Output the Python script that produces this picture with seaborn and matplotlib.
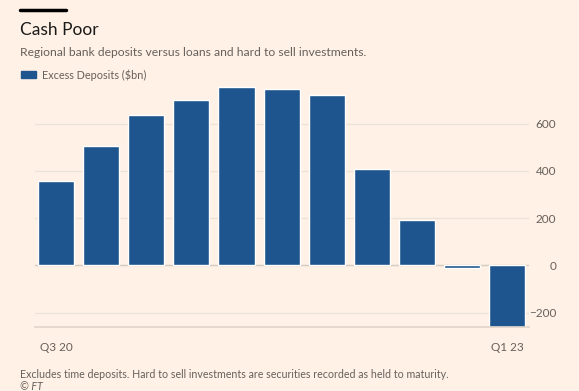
import matplotlib
matplotlib.use("Agg")
import matplotlib.pyplot as plt
from matplotlib.patches import Patch
from matplotlib.lines import Line2D
import seaborn as sns
import pandas as pd

# ================= DATA =================
quarters = ["Q3 20", "Q4 20", "Q1 21", "Q2 21", "Q3 21", "Q4 21",
            "Q1 22", "Q2 22", "Q3 22", "Q4 22", "Q1 23"]
excess_deposits = [356, 504, 636, 699, 755, 747, 720, 407, 192, -10, -260]
shown_ticks = ["Q3 20", "Q1 23"]
y_ticks = [-200, 0, 200, 400, 600]

BG = "#fff1e5"
BAR = "#1f558f"
GREY = "#66605c"
GRID = "#ece2d9"

df = pd.DataFrame({"quarter": quarters, "deposits": excess_deposits})

sns.set_style("white")
plt.rcParams["font.family"] = ["Lato", "DejaVu Sans"]

fig = plt.figure(figsize=(5.79, 3.91), dpi=100, facecolor=BG)
ax = fig.add_axes([35 / 579, 1 - 327 / 391, 494 / 579, 242 / 391])
ax.set_facecolor(BG)

sns.barplot(data=df, x="quarter", y="deposits", color=BAR, width=0.8,
            saturation=1, ax=ax, zorder=3)

ax.set_xlim(-0.47, 10.49)
ax.set_ylim(-261, 764)
ax.set_yticks(y_ticks)
ax.yaxis.tick_right()
ax.tick_params(axis="y", length=0, pad=19.5, labelsize=8.5, labelcolor=GREY)
for lab in ax.get_yticklabels():
    lab.set_horizontalalignment("right")
ax.grid(axis="y", color=GRID, linewidth=1, zorder=0)
ax.axhline(0, color="#d8ccc2", linewidth=1, zorder=2)

ax.set_xticks(range(len(quarters)))
ax.set_xticklabels([q if q in shown_ticks else "" for q in quarters])
ax.tick_params(axis="x", length=5, color="#d8ccc2", width=1, pad=6,
               labelsize=8.5, labelcolor=GREY)
ax.set_xlabel("")
ax.set_ylabel("")
for side in ["top", "left", "right"]:
    ax.spines[side].set_visible(False)
ax.spines["bottom"].set_color("#e0d5cb")
ax.spines["bottom"].set_linewidth(1.2)
ax.spines["bottom"].set_zorder(4)

# ================= HEADER / FOOTER =================
fig.add_artist(Line2D([20 / 579, 66 / 579], [1 - 10 / 391] * 2, color="black",
                      linewidth=2.5))
fig.text(20 / 579, 1 - 30 / 391, "Cash Poor", fontsize=12.5, color="#1a1a1a",
         va="center")
fig.text(20 / 579, 1 - 52 / 391,
         "Regional bank deposits versus loans and hard to sell investments.",
         fontsize=8.7, color=GREY, va="center")
fig.legend(handles=[Patch(color=BAR, label="Excess Deposits ($bn)")],
           loc="center left", bbox_to_anchor=(11 / 579, 1 - 75 / 391),
           frameon=False, fontsize=7.8, labelcolor=GREY, handlelength=1.4,
           handleheight=0.6, handletextpad=0.6)
fig.text(20 / 579, 1 - 375 / 391,
         "Excludes time deposits. Hard to sell investments are securities recorded as held to maturity.",
         fontsize=7.7, color=GREY, va="center")
fig.text(20 / 579, 1 - 387 / 391, "© FT", fontsize=7.7, color=GREY,
         va="center", style="italic")

fig.savefig("out.png", dpi=100, facecolor=BG)
